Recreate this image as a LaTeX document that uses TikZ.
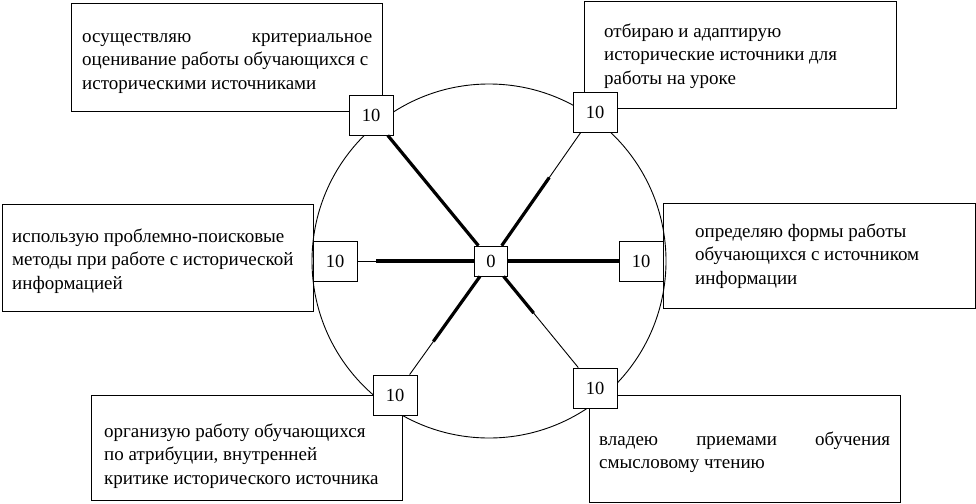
\documentclass[tikz,border=0pt]{standalone}
\usepackage{fontspec}
\setmainfont{Liberation Serif}
\usetikzlibrary{calc}
\begin{document}
\begin{tikzpicture}[x=1pt,y=-1pt,
  bigbox/.style={draw, line width=1.1pt, anchor=north west, inner sep=0pt},
  valbox/.style={draw, fill=white, line width=0.8pt, minimum width=44pt, minimum height=40pt, inner sep=0pt, font=\fontsize{18.5}{22}\selectfont},
  zerobox/.style={valbox, minimum width=33pt, minimum height=30pt},
  txt/.style={anchor=north west, inner sep=0pt, align=left, font=\fontsize{19}{23.5}\selectfont},
  spoke/.style={line width=0.9pt},
  bar/.style={line width=3.2pt}]
\useasboundingbox[fill=white] (0,0) rectangle (976,503);
% circle
\node[draw, circle, line width=0.9pt, minimum size=354pt, inner sep=0pt] (circ) at (489,261) {};
% big boxes
\node[bigbox, minimum width=311pt, minimum height=108pt] (bTL) at (71,3) {};
\node[bigbox, minimum width=312pt, minimum height=107pt] (bTR) at (584,1) {};
\node[bigbox, minimum width=311pt, minimum height=107pt] (bL) at (2,204) {};
\node[bigbox, minimum width=312pt, minimum height=105pt] (bR) at (663,203) {};
\node[bigbox, minimum width=311pt, minimum height=105pt] (bBL) at (91,395) {};
\node[bigbox, minimum width=311pt, minimum height=107pt] (bBR) at (589,395) {};
% texts
\node[txt] (tTL) at (82,25.5) {\strut\makebox[290pt][s]{осуществляю критериальное}\\оценивание работы обучающихся с\\историческими источниками};
\node[txt] (tTR) at (604,20.5) {\strut отбираю и адаптирую\\исторические источники для\\работы на уроке};
\node[txt] (tL) at (12,225.5) {\strut использую проблемно-поисковые\\методы при работе с исторической\\информацией};
\node[txt] (tR) at (695,220.5) {\strut определяю формы работы\\обучающихся с источником\\информации};
\node[txt] (tBL) at (104,420.5) {\strut организую работу обучающихся\\по атрибуции, внутренней\\критике исторического источника};
\node[txt] (tBR) at (599,428.5) {\strut\makebox[291pt][s]{владею приемами обучения}\\смысловому чтению};
% value boxes
\node[zerobox] (c) at (491,261) {0};
\node[valbox] (vTL) at (371,115) {10};
\node[valbox] (vTR) at (595,112) {10};
\node[valbox] (vL) at (335,261) {10};
\node[valbox] (vR) at (641,261) {10};
\node[valbox] (vBL) at (395,395) {10};
\node[valbox] (vBR) at (595,388) {10};
% spokes
\draw[spoke] (c) -- (vTL);
\draw[spoke] (c) -- (vTR);
\draw[spoke] (c) -- (vL);
\draw[spoke] (c) -- (vR);
\draw[spoke] (c) -- (vBL);
\draw[spoke] (c) -- (vBR);
% bars
\draw[bar] (c) -- (vTL);
\draw[bar] (c) -- ($(c)!0.56!(vTR)$);
\draw[bar] (c) -- ($(c)!0.74!(vL)$);
\draw[bar] (c) -- (vR);
\draw[bar] (c) -- ($(c)!0.60!(vBL)$);
\draw[bar] (c) -- ($(c)!0.41!(vBR)$);
\end{tikzpicture}
\end{document}
